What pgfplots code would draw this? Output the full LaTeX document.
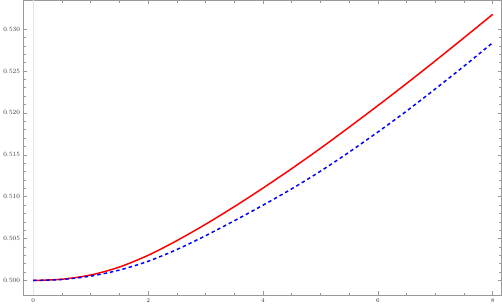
\documentclass[border=0pt]{standalone}
\usepackage{pgfplots}
\pgfplotsset{compat=1.18}
\definecolor{framegray}{gray}{0.6}
\definecolor{labgray}{gray}{0.2}
\begin{document}
\begin{tikzpicture}
\begin{axis}[
  scale only axis,
  width=482.7bp, height=297.5bp,
  xmin=-0.17, xmax=8.157,
  ymin=0.49826, ymax=0.53343,
  xtick={0,2,4,6,8},
  ytick={0.500,0.505,0.510,0.515,0.520,0.525,0.530},
  yticklabels={0.500,0.505,0.510,0.515,0.520,0.525,0.530},
  minor x tick num=3,
  minor y tick num=4,
  tick pos=both,
  tick align=inside,
  major tick length=4bp,
  minor tick length=2.5bp,
  axis line style={framegray, line width=0.6bp},
  every tick/.style={framegray, line width=0.5bp},
  every minor tick/.style={framegray, line width=0.5bp},
  tick label style={font=\fontsize{6.5}{8}\selectfont, text=labgray},
  xticklabel style={yshift=-0.5bp},
  scaled y ticks=false,
  extra x ticks={0},
  extra x tick labels={},
  extra x tick style={grid=major, major grid style={gray!20, line width=0.6bp}, major tick length=0pt},
]
\addplot[red, line width=1.5bp, smooth] coordinates {
(0,0.50000) (0.5,0.50015) (1,0.50065) (1.5,0.50160) (2,0.50300) (2.5,0.50475)
(3,0.50670) (3.5,0.50880) (4,0.51102) (4.5,0.51334) (5,0.51576) (5.5,0.51828)
(6,0.52086) (6.5,0.52350) (7,0.52620) (7.5,0.52896) (8,0.53175)
};
\addplot[blue, line width=1.5bp, dash pattern=on 3.5bp off 3bp, smooth] coordinates {
(0,0.50000) (0.5,0.50012) (1,0.50052) (1.5,0.50124) (2,0.50229) (2.5,0.50369)
(3,0.50534) (3.5,0.50712) (4,0.50898) (4.5,0.51093) (5,0.51303) (5.5,0.51531)
(6,0.51771) (6.5,0.52021) (7,0.52285) (7.5,0.52557) (8,0.52837)
};
\end{axis}
\end{tikzpicture}
\end{document}
